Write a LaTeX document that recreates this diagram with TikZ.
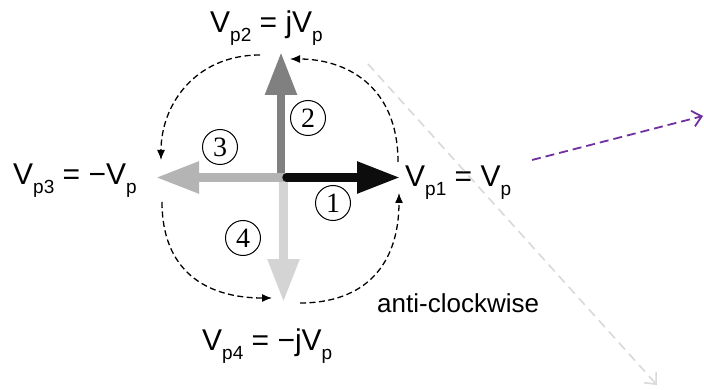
\documentclass[tikz,border=0pt]{standalone}
\usepackage{fontspec}
\setmainfont{Liberation Sans}
\newfontfamily\serifnum{Liberation Serif}
\usetikzlibrary{arrows.meta}
\definecolor{vA}{HTML}{0D0D0D}
\definecolor{vB}{HTML}{808080}
\definecolor{vC}{HTML}{B4B4B4}
\definecolor{vD}{HTML}{D4D4D4}
\definecolor{ghost}{HTML}{D9D9D9}
\definecolor{violet}{HTML}{7030A0}
\newcommand{\sbs}[1]{\raisebox{-9pt}{\fontsize{19}{19}\selectfont #1}}
\tikzset{
  bigarrow/.style={line width=8.5pt, -{Triangle[length=43pt,width=30pt]}},
  rotarrow/.style={line width=1.3pt, dash pattern=on 6pt off 3.5pt, -{Latex[length=10pt,width=8pt]}},
  numc/.style={circle, draw, line width=1pt, minimum size=35pt, inner sep=0pt, font=\serifnum\fontsize{28}{28}\selectfont},
  lbl/.style={anchor=base west, inner sep=0pt, font=\fontsize{30}{30}\selectfont},
  ghostline/.style={draw=ghost, line width=1.6pt, dash pattern=on 9pt off 6pt, -{Straight Barb[length=9pt,width=16pt]}},
  violetline/.style={draw=violet, line width=1.8pt, dash pattern=on 9pt off 5pt, -{Straight Barb[length=9pt,width=16pt]}}
}
\begin{document}
\begin{tikzpicture}[x=1pt,y=-1pt]
\useasboundingbox (0,0) rectangle (704,390);
\fill[white] (0,0) rectangle (704,390);
% coordinates of the phasors
\coordinate (S1) at (286.5,177.5); \coordinate (T1) at (400,177.5);
\coordinate (S2) at (281,181);     \coordinate (T2) at (281,52);
\coordinate (S3) at (286,177.5);   \coordinate (T3) at (156,177.5);
\coordinate (S4) at (283.5,182);   \coordinate (T4) at (283.5,302);
% phasors
\draw[bigarrow, vB] (S2) -- (T2);
\draw[bigarrow, vD] (S4) -- (T4);
\draw[bigarrow, vC] (S3) -- (T3);
\draw[bigarrow, vA, line cap=round] (S1) -- (T1);
% circled numbers
\node[numc] (n1) at (333,203) {1};
\node[numc] (n2) at (308,118) {2};
\node[numc] (n3) at (220,147) {3};
\node[numc] (n4) at (243,238) {4};
% labels
\node[lbl] (L1) at (405,187) {V\sbs{p1} = V\sbs{p}};
\node[lbl] (L2) at (210,33) {V\sbs{p2} = jV\sbs{p}};
\node[lbl] (L3) at (13,185) {V\sbs{p3} = −V\sbs{p}};
\node[lbl] (L4) at (202,350) {V\sbs{p4} = −jV\sbs{p}};
\node[anchor=base west, inner sep=0pt, font=\fontsize{26}{26}\selectfont] (ac) at (377,312) {anti-clockwise};
% rotation arrows
\coordinate (a1s) at (300,303); \coordinate (a1e) at (399,193);
\coordinate (a2s) at (398,162); \coordinate (a2e) at (290,59);
\coordinate (a3s) at (260,55);  \coordinate (a3e) at (161,160);
\coordinate (a4s) at (162,202); \coordinate (a4e) at (272,298);
\draw[rotarrow] (a1s) .. controls (365,303) and (399,265) .. (a1e);
\draw[rotarrow] (a2s) .. controls (398,85) and (345,59) .. (a2e);
\draw[rotarrow] (a3s) .. controls (195,55) and (161,105) .. (a3e);
\draw[rotarrow] (a4s) .. controls (162,270) and (205,298) .. (a4e);
% faint and violet dashed pointers
\coordinate (g1) at (368,64); \coordinate (g2) at (657,385);
\draw[ghostline] (g1) -- (g2);
\coordinate (p1) at (532,160); \coordinate (p2) at (703,116);
\draw[violetline] (p1) -- (p2);
\end{tikzpicture}
\end{document}
